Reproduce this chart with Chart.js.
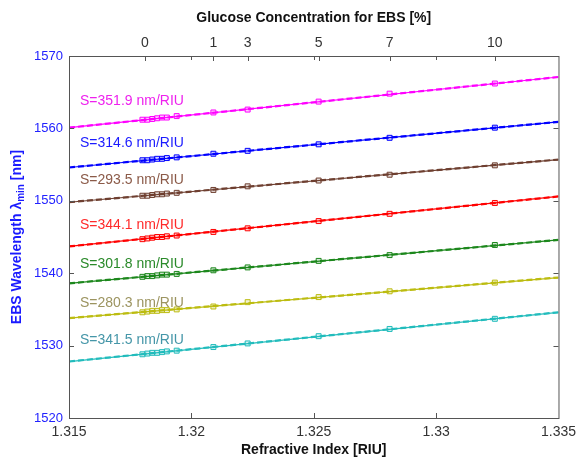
<!DOCTYPE html>
<html>
<head>
<meta charset="utf-8">
<script src="https://cdn.jsdelivr.net/npm/chart.js@4"></script>
<style>
  html, body { margin: 0; padding: 0; background: #fff; }
  #wrap { width: 582px; height: 457px; }
</style>
</head>
<body>
<div id="wrap"><canvas id="myChart" width="582" height="457"></canvas></div>
<script>
"use strict";
// refractive index of each measured solution
const refIndex = [1.3180, 1.3182, 1.3184, 1.3186, 1.3188, 1.3190, 1.3194, 1.3209, 1.3223, 1.3252, 1.3281, 1.3324];
// top axis: glucose concentration ticks
const glucoseRI = [1.3181, 1.3209, 1.3223, 1.3252, 1.3281, 1.3324];
const glucoseLabels = ['0', '1', '3', '5', '7', '10'];

const sensLabels = ['S=351.9 nm/RIU', 'S=314.6 nm/RIU', 'S=293.5 nm/RIU', 'S=344.1 nm/RIU',
                    'S=301.8 nm/RIU', 'S=280.3 nm/RIU', 'S=341.5 nm/RIU'];
const wl1 = [1561.2, 1561.2, 1561.3, 1561.4, 1561.5, 1561.5, 1561.7, 1562.2, 1562.6, 1563.7, 1564.8, 1566.2];
const wl2 = [1555.6, 1555.6, 1555.7, 1555.8, 1555.8, 1555.9, 1556.0, 1556.5, 1556.9, 1557.8, 1558.7, 1560.1];
const wl3 = [1550.7, 1550.7, 1550.8, 1550.9, 1550.9, 1551.0, 1551.1, 1551.5, 1552.0, 1552.8, 1553.6, 1554.9];
const wl4 = [1544.7, 1544.8, 1544.9, 1545.0, 1545.0, 1545.1, 1545.2, 1545.7, 1546.2, 1547.2, 1548.2, 1549.7];
const wl5 = [1539.5, 1539.6, 1539.6, 1539.7, 1539.8, 1539.8, 1539.9, 1540.4, 1540.8, 1541.7, 1542.5, 1543.9];
const wl6 = [1534.6, 1534.7, 1534.8, 1534.8, 1534.9, 1534.9, 1535.0, 1535.4, 1536.0, 1536.7, 1537.5, 1538.7];
const wl7 = [1528.8, 1528.9, 1529.0, 1529.0, 1529.1, 1529.2, 1529.3, 1529.8, 1530.3, 1531.3, 1532.3, 1533.7];
const allWl = [wl1, wl2, wl3, wl4, wl5, wl6, wl7];
// linear fit, value at 1.315 and at 1.335
const fitStart = [1560.1, 1554.6, 1549.8, 1543.7, 1538.6, 1533.8, 1527.8];
const fitEnd = [1567.1, 1560.9, 1555.7, 1550.6, 1544.6, 1539.4, 1534.6];
const xRange = [1.315, 1.335];

const lineColors = ['#ff00ff', '#0000ff', '#6e3f30', '#ff0000', '#1c871c', '#bcbc10', '#22bcbc'];
const textColors = ['#ee22ee', '#1a1aff', '#8b5a48', '#ff2a2a', '#2a8a2a', '#9c9460', '#4596a8'];
// where the S= labels sit (wavelength units, left side)
const labelAt = [1563.8, 1557.9, 1552.8, 1546.6, 1541.3, 1535.9, 1530.8];

let datasets = [];
for (let k = 0; k < allWl.length; k++) {
    datasets.push({
        type: 'scatter',
        data: refIndex.map((x, i) => ({x: x, y: allWl[k][i]})),
        pointStyle: 'rect',
        pointRadius: 3.5,
        pointBorderWidth: 1,
        borderColor: lineColors[k],
        backgroundColor: lineColors[k] + '30',
        showLine: false,
        order: 1
    });
    datasets.push({
        type: 'line',
        data: [{x: xRange[0], y: fitStart[k]}, {x: xRange[1], y: fitEnd[k]}],
        borderColor: lineColors[k],
        borderWidth: 1.2,
        pointRadius: 0,
        order: 3
    });
    datasets.push({
        type: 'line',
        data: [{x: xRange[0], y: fitStart[k]}, {x: xRange[1], y: fitEnd[k]}],
        borderColor: lineColors[k],
        borderWidth: 2.2,
        borderDash: [6, 3],
        pointRadius: 0,
        order: 2
    });
}

const decor = {
    id: 'decor',
    afterDraw(chart) {
        const ctx = chart.ctx;
        const a = chart.chartArea;
        const sx = chart.scales.x, sy = chart.scales.y;
        ctx.save();
        ctx.strokeStyle = '#555';
        ctx.lineWidth = 1;
        ctx.strokeRect(a.left + 0.5, a.top + 0.5, a.right - a.left, a.bottom - a.top);
        ctx.beginPath();
        sx.ticks.forEach(t => {
            if (t.value <= xRange[0] + 1e-9 || t.value >= xRange[1] - 1e-9) return;
            const px = Math.round(sx.getPixelForValue(t.value)) + 0.5;
            ctx.moveTo(px, a.bottom); ctx.lineTo(px, a.bottom - 5);
            ctx.moveTo(px, a.top); ctx.lineTo(px, a.top + 4);
        });
        sy.ticks.forEach(t => {
            if (t.value <= sy.min || t.value >= sy.max) return;
            const py = Math.round(sy.getPixelForValue(t.value)) + 0.5;
            ctx.moveTo(a.left, py); ctx.lineTo(a.left + 5, py);
            ctx.moveTo(a.right, py); ctx.lineTo(a.right - 5, py);
        });
        glucoseRI.forEach(v => {
            const px = Math.round(sx.getPixelForValue(v)) + 0.5;
            ctx.moveTo(px, a.top); ctx.lineTo(px, a.top + 5);
        });
        ctx.stroke();

        // sensitivity labels
        ctx.font = '14px "Liberation Sans", Arial, sans-serif';
        ctx.textBaseline = 'middle';
        ctx.textAlign = 'left';
        for (let k = 0; k < sensLabels.length; k++) {
            ctx.fillStyle = textColors[k];
            ctx.fillText(sensLabels[k], sx.getPixelForValue(1.31545), sy.getPixelForValue(labelAt[k]));
        }

        // y title with subscript
        ctx.translate(17, (a.top + a.bottom) / 2);
        ctx.rotate(-Math.PI / 2);
        ctx.fillStyle = '#1a1aff';
        const big = 'bold 14px "Liberation Sans", Arial, sans-serif';
        const small = 'bold 10px "Liberation Sans", Arial, sans-serif';
        const p1 = 'EBS Wavelength \u03bb', p2 = 'min', p3 = ' [nm]';
        ctx.font = big; const w1 = ctx.measureText(p1).width; const w3 = ctx.measureText(p3).width;
        ctx.font = small; const w2 = ctx.measureText(p2).width;
        let x0 = -(w1 + w2 + w3) / 2;
        ctx.font = big; ctx.fillText(p1, x0, 0);
        ctx.font = small; ctx.fillText(p2, x0 + w1, 4);
        ctx.font = big; ctx.fillText(p3, x0 + w1 + w2, 0);
        ctx.restore();
    }
};

const font = {family: '"Liberation Sans", Arial, sans-serif', size: 14};
const noGrid = {display: false, drawTicks: false};
const config = {
    type: 'scatter',
    data: {datasets: datasets},
    options: {
        responsive: false,
        animation: false,
        layout: {padding: {left: 0, right: 23, top: 0, bottom: 0}},
        plugins: {legend: {display: false}, tooltip: {enabled: false}},
        scales: {
            x: {
                type: 'linear', position: 'bottom',
                min: xRange[0], max: xRange[1],
                grid: noGrid, border: {display: false},
                ticks: {stepSize: 0.005, color: '#333', font: font, padding: 6, maxRotation: 0,
                        callback: v => String(parseFloat(v.toFixed(3)))},
                title: {display: true, text: 'Refractive Index [RIU]', color: '#111',
                        font: {family: font.family, size: 14, weight: 'bold'}, padding: {top: 0, bottom: -2}},
                afterFit: s => { s.height = 39; }
            },
            x2: {
                type: 'linear', position: 'top',
                min: xRange[0], max: xRange[1],
                grid: noGrid, border: {display: false},
                afterBuildTicks: s => { s.ticks = glucoseRI.map(v => ({value: v})); },
                ticks: {color: '#333', font: font, padding: 4, autoSkip: false, maxRotation: 0,
                        callback: (v, i) => glucoseLabels[i]},
                title: {display: true, text: 'Glucose Concentration for EBS [%]', color: '#111',
                        font: {family: font.family, size: 14, weight: 'bold'}, padding: {top: 10, bottom: 0}},
                afterFit: s => { s.height = 56; }
            },
            y: {
                type: 'linear', position: 'left',
                min: 1520, max: 1570,
                grid: noGrid, border: {display: false},
                ticks: {stepSize: 10, color: '#2222ff', font: {family: font.family, size: 13}, padding: 6,
                        callback: v => String(v)},
                afterFit: s => { s.width = 69; }
            }
        }
    },
    plugins: [decor]
};
let canvasChart = document.getElementById('myChart');
const myChart = new Chart(canvasChart, config);
</script>
</body>
</html>
